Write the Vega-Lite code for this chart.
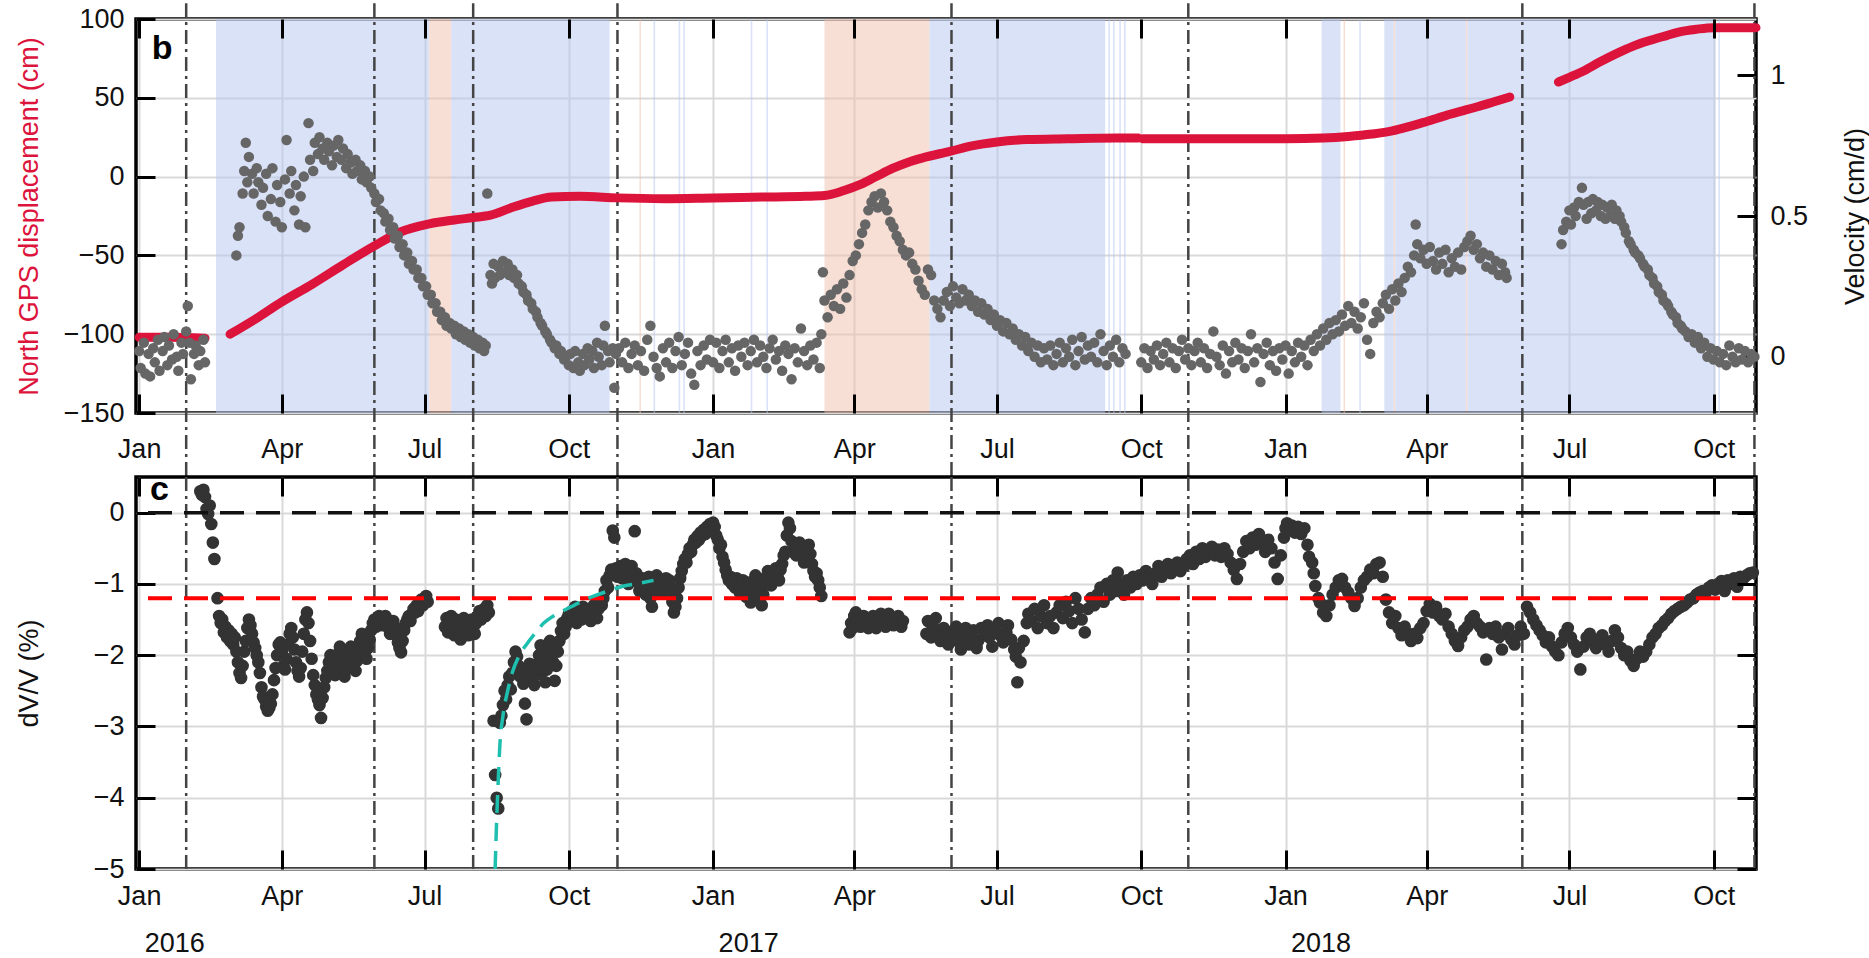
{
"$schema":"https://vega.github.io/schema/vega-lite/v6.json",
"padding":{"left":13,"top":0,"right":1,"bottom":2},
"bounds":"flush",
"spacing":64,
"config":{
 "font":"Liberation Sans",
 "view":{"stroke":"#000","strokeWidth":3.5},
 "axis":{"labelFont":"Liberation Sans","titleFont":"Liberation Sans","labelFontSize":27,"titleFontSize":27,"titleFontWeight":"normal","labelColor":"#111","titleColor":"#111","tickColor":"#000","tickWidth":3,"tickSize":-19,"domain":false,"gridColor":"#d9d9d9","gridWidth":2,"labelFlush":false,"labelOverlap":false,"labelBound":false}
},
"datasets":{
"bands":[
{"s":"2016-02-19","e":"2016-07-04","k":"blue"},
{"s":"2016-07-04","e":"2016-07-18","k":"salmon"},
{"s":"2016-07-18","e":"2016-10-27","k":"blue"},
{"s":"2016-11-15","e":"2016-11-16","k":"salmon"},
{"s":"2016-11-24","e":"2016-11-25","k":"blue"},
{"s":"2016-12-10","e":"2016-12-11","k":"blue"},
{"s":"2016-12-13","e":"2016-12-14","k":"blue"},
{"s":"2017-01-25","e":"2017-01-26","k":"blue"},
{"s":"2017-02-04","e":"2017-02-05","k":"blue"},
{"s":"2017-03-13","e":"2017-05-19","k":"salmon"},
{"s":"2017-05-19","e":"2017-09-08","k":"blue"},
{"s":"2017-09-10","e":"2017-09-11","k":"blue"},
{"s":"2017-09-13","e":"2017-09-14","k":"blue"},
{"s":"2017-09-17","e":"2017-09-18","k":"blue"},
{"s":"2017-09-20","e":"2017-09-21","k":"blue"},
{"s":"2018-01-24","e":"2018-02-05","k":"blue"},
{"s":"2018-02-07","e":"2018-02-08","k":"salmon"},
{"s":"2018-02-17","e":"2018-02-18","k":"blue"},
{"s":"2018-03-05","e":"2018-03-11","k":"blue"},
{"s":"2018-03-11","e":"2018-03-12","k":"salmon"},
{"s":"2018-03-12","e":"2018-04-26","k":"blue"},
{"s":"2018-04-26","e":"2018-04-27","k":"salmon"},
{"s":"2018-04-27","e":"2018-10-02","k":"blue"},
{"s":"2018-10-04","e":"2018-10-05","k":"blue"}
],
"events":[{"d":"2016-01-31"},{"d":"2016-05-30"},{"d":"2016-08-01"},{"d":"2016-11-01"},{"d":"2017-06-02"},{"d":"2017-10-31"},{"d":"2018-06-01"},{"d":"2018-10-27"}],
"disp":[
{"d":"2016-01-01","cm":-102,"seg":1},{"d":"2016-01-20","cm":-102,"seg":1},{"d":"2016-02-12","cm":-102.5,"seg":1},
{"d":"2016-02-28","cm":-100,"seg":2},{"d":"2016-03-15","cm":-90.5,"seg":2},{"d":"2016-04-01","cm":-79.5,"seg":2},{"d":"2016-04-20","cm":-68.5,"seg":2},{"d":"2016-05-10","cm":-56,"seg":2},{"d":"2016-05-30","cm":-44,"seg":2},{"d":"2016-06-16","cm":-35,"seg":2},{"d":"2016-07-04","cm":-30,"seg":2},{"d":"2016-07-20","cm":-27.5,"seg":2},{"d":"2016-08-01","cm":-26,"seg":2},{"d":"2016-08-12","cm":-24.5,"seg":2},{"d":"2016-08-26","cm":-19.5,"seg":2},{"d":"2016-09-08","cm":-15.5,"seg":2},{"d":"2016-09-20","cm":-13,"seg":2},{"d":"2016-10-08","cm":-12.5,"seg":2},{"d":"2016-11-01","cm":-13.5,"seg":2},{"d":"2016-12-01","cm":-14,"seg":2},{"d":"2017-01-01","cm":-13.5,"seg":2},{"d":"2017-02-01","cm":-13,"seg":2},{"d":"2017-03-01","cm":-12.5,"seg":2},{"d":"2017-03-13","cm":-12,"seg":2},{"d":"2017-03-25","cm":-9,"seg":2},{"d":"2017-04-05","cm":-5,"seg":2},{"d":"2017-04-15","cm":0,"seg":2},{"d":"2017-04-25","cm":5,"seg":2},{"d":"2017-05-05","cm":9,"seg":2},{"d":"2017-05-15","cm":12,"seg":2},{"d":"2017-06-01","cm":16,"seg":2},{"d":"2017-06-15","cm":19.5,"seg":2},{"d":"2017-07-01","cm":22,"seg":2},{"d":"2017-07-20","cm":23.5,"seg":2},{"d":"2017-08-15","cm":24,"seg":2},{"d":"2017-09-15","cm":24.5,"seg":2},{"d":"2017-09-29","cm":24.5,"seg":2},
{"d":"2017-10-02","cm":24,"seg":3},{"d":"2017-11-01","cm":24,"seg":3},{"d":"2017-12-01","cm":24,"seg":3},{"d":"2018-01-01","cm":24,"seg":3},{"d":"2018-01-25","cm":24.5,"seg":3},{"d":"2018-02-10","cm":25.5,"seg":3},{"d":"2018-02-25","cm":27,"seg":3},{"d":"2018-03-10","cm":29,"seg":3},{"d":"2018-03-20","cm":31.5,"seg":3},{"d":"2018-04-01","cm":35,"seg":3},{"d":"2018-04-14","cm":39,"seg":3},{"d":"2018-04-25","cm":42,"seg":3},{"d":"2018-05-04","cm":44.5,"seg":3},{"d":"2018-05-14","cm":47.5,"seg":3},{"d":"2018-05-24","cm":50.5,"seg":3},
{"d":"2018-06-24","cm":60,"seg":4},{"d":"2018-07-01","cm":63,"seg":4},{"d":"2018-07-10","cm":67,"seg":4},{"d":"2018-07-20","cm":72.5,"seg":4},{"d":"2018-08-01","cm":78.5,"seg":4},{"d":"2018-08-10","cm":82.5,"seg":4},{"d":"2018-08-20","cm":86,"seg":4},{"d":"2018-09-01","cm":89.5,"seg":4},{"d":"2018-09-10","cm":92,"seg":4},{"d":"2018-09-20","cm":93.5,"seg":4},{"d":"2018-10-01","cm":94.5,"seg":4},{"d":"2018-10-28","cm":94.5,"seg":4}
],
"vel":[
{"d":"2016-01-01","v":0.02},{"d":"2016-01-02","v":-0.04},{"d":"2016-01-04","v":0.05},{"d":"2016-01-05","v":-0.06},{"d":"2016-01-07","v":0.01},{"d":"2016-01-08","v":-0.07},{"d":"2016-01-10","v":0.03},{"d":"2016-01-11","v":-0.02},{"d":"2016-01-13","v":0.06},{"d":"2016-01-14","v":-0.05},{"d":"2016-01-16","v":0.02},{"d":"2016-01-17","v":0.07},{"d":"2016-01-19","v":-0.03},{"d":"2016-01-20","v":0.04},{"d":"2016-01-22","v":-0.01},{"d":"2016-01-23","v":0.08},{"d":"2016-01-25","v":0.0},{"d":"2016-01-26","v":-0.05},{"d":"2016-01-28","v":0.05},{"d":"2016-01-29","v":0.01},{"d":"2016-01-31","v":0.09},{"d":"2016-02-01","v":0.18},{"d":"2016-02-02","v":0.05},{"d":"2016-02-03","v":-0.08},{"d":"2016-02-05","v":0.01},{"d":"2016-02-06","v":0.04},{"d":"2016-02-08","v":-0.03},{"d":"2016-02-09","v":0.02},{"d":"2016-02-11","v":0.06},{"d":"2016-02-12","v":-0.02},
{"d":"2016-03-03","v":0.36},{"d":"2016-03-04","v":0.43},{"d":"2016-03-05","v":0.46},{"d":"2016-03-07","v":0.58},{"d":"2016-03-08","v":0.66},{"d":"2016-03-09","v":0.76},{"d":"2016-03-10","v":0.62},{"d":"2016-03-11","v":0.71},{"d":"2016-03-13","v":0.65},{"d":"2016-03-14","v":0.58},{"d":"2016-03-16","v":0.67},{"d":"2016-03-17","v":0.62},{"d":"2016-03-19","v":0.54},{"d":"2016-03-20","v":0.6},{"d":"2016-03-22","v":0.65},{"d":"2016-03-23","v":0.5},{"d":"2016-03-25","v":0.56},{"d":"2016-03-26","v":0.67},{"d":"2016-03-28","v":0.48},{"d":"2016-03-29","v":0.61},{"d":"2016-03-31","v":0.55},{"d":"2016-04-01","v":0.46},{"d":"2016-04-03","v":0.63},{"d":"2016-04-04","v":0.77},{"d":"2016-04-06","v":0.58},{"d":"2016-04-07","v":0.66},{"d":"2016-04-09","v":0.52},{"d":"2016-04-10","v":0.61},{"d":"2016-04-12","v":0.47},{"d":"2016-04-13","v":0.57},{"d":"2016-04-15","v":0.64},{"d":"2016-04-16","v":0.46},{"d":"2016-04-18","v":0.83},{"d":"2016-04-19","v":0.7},{"d":"2016-04-21","v":0.66},{"d":"2016-04-22","v":0.76},{"d":"2016-04-24","v":0.72},{"d":"2016-04-25","v":0.78},{"d":"2016-04-27","v":0.74},{"d":"2016-04-28","v":0.7},{"d":"2016-04-30","v":0.76},{"d":"2016-05-01","v":0.73},{"d":"2016-05-03","v":0.68},{"d":"2016-05-04","v":0.75},{"d":"2016-05-06","v":0.71},{"d":"2016-05-07","v":0.77},{"d":"2016-05-09","v":0.7},{"d":"2016-05-10","v":0.74},{"d":"2016-05-12","v":0.67},{"d":"2016-05-13","v":0.72},{"d":"2016-05-15","v":0.69},{"d":"2016-05-16","v":0.65},{"d":"2016-05-18","v":0.7},{"d":"2016-05-19","v":0.66},{"d":"2016-05-21","v":0.68},{"d":"2016-05-22","v":0.63},{"d":"2016-05-24","v":0.66},{"d":"2016-05-25","v":0.62},{"d":"2016-05-27","v":0.64},{"d":"2016-05-28","v":0.6},{"d":"2016-05-30","v":0.58},{"d":"2016-05-31","v":0.55},{"d":"2016-06-02","v":0.56},{"d":"2016-06-03","v":0.52},{"d":"2016-06-05","v":0.51},{"d":"2016-06-06","v":0.48},{"d":"2016-06-08","v":0.49},{"d":"2016-06-09","v":0.45},{"d":"2016-06-11","v":0.46},{"d":"2016-06-12","v":0.42},{"d":"2016-06-14","v":0.43},{"d":"2016-06-15","v":0.39},{"d":"2016-06-17","v":0.4},{"d":"2016-06-18","v":0.36},{"d":"2016-06-20","v":0.37},{"d":"2016-06-21","v":0.33},{"d":"2016-06-23","v":0.34},{"d":"2016-06-24","v":0.31},{"d":"2016-06-26","v":0.31},{"d":"2016-06-27","v":0.28},{"d":"2016-06-29","v":0.28},{"d":"2016-06-30","v":0.25},{"d":"2016-07-02","v":0.25},{"d":"2016-07-03","v":0.22},{"d":"2016-07-05","v":0.22},{"d":"2016-07-06","v":0.19},{"d":"2016-07-08","v":0.19},{"d":"2016-07-09","v":0.16},{"d":"2016-07-11","v":0.16},{"d":"2016-07-12","v":0.13},{"d":"2016-07-14","v":0.14},{"d":"2016-07-15","v":0.11},{"d":"2016-07-17","v":0.12},{"d":"2016-07-18","v":0.1},{"d":"2016-07-20","v":0.11},{"d":"2016-07-21","v":0.08},{"d":"2016-07-23","v":0.1},{"d":"2016-07-24","v":0.07},{"d":"2016-07-26","v":0.09},{"d":"2016-07-27","v":0.06},{"d":"2016-07-29","v":0.08},{"d":"2016-07-30","v":0.05},{"d":"2016-08-01","v":0.07},{"d":"2016-08-02","v":0.04},{"d":"2016-08-04","v":0.06},{"d":"2016-08-05","v":0.03},{"d":"2016-08-07","v":0.05},{"d":"2016-08-08","v":0.02},{"d":"2016-08-09","v":0.04},{"d":"2016-08-10","v":0.58},{"d":"2016-08-12","v":0.29},{"d":"2016-08-13","v":0.26},{"d":"2016-08-14","v":0.33},{"d":"2016-08-15","v":0.28},{"d":"2016-08-17","v":0.32},{"d":"2016-08-18","v":0.29},{"d":"2016-08-20","v":0.34},{"d":"2016-08-21","v":0.3},{"d":"2016-08-23","v":0.33},{"d":"2016-08-24","v":0.29},{"d":"2016-08-26","v":0.31},{"d":"2016-08-27","v":0.28},{"d":"2016-08-29","v":0.29},{"d":"2016-08-30","v":0.26},{"d":"2016-09-01","v":0.25},{"d":"2016-09-02","v":0.23},{"d":"2016-09-04","v":0.22},{"d":"2016-09-05","v":0.2},{"d":"2016-09-07","v":0.19},{"d":"2016-09-08","v":0.17},{"d":"2016-09-10","v":0.16},{"d":"2016-09-11","v":0.14},{"d":"2016-09-13","v":0.12},{"d":"2016-09-14","v":0.11},{"d":"2016-09-16","v":0.09},{"d":"2016-09-17","v":0.08},{"d":"2016-09-19","v":0.06},{"d":"2016-09-20","v":0.05},{"d":"2016-09-22","v":0.03},{"d":"2016-09-23","v":0.04},{"d":"2016-09-25","v":0.01},{"d":"2016-09-26","v":0.02},{"d":"2016-09-28","v":-0.01},{"d":"2016-09-29","v":0.0},{"d":"2016-10-01","v":-0.03},{"d":"2016-10-02","v":0.01},{"d":"2016-10-04","v":-0.04},{"d":"2016-10-05","v":0.02},{"d":"2016-10-07","v":-0.02},{"d":"2016-10-08","v":-0.05},{"d":"2016-10-10","v":0.01},{"d":"2016-10-11","v":-0.03},{"d":"2016-10-13","v":0.03},{"d":"2016-10-14","v":-0.01},{"d":"2016-10-16","v":0.02},{"d":"2016-10-17","v":-0.04},{"d":"2016-10-19","v":0.05},{"d":"2016-10-20","v":0.0},{"d":"2016-10-22","v":-0.03},{"d":"2016-10-23","v":0.04},{"d":"2016-10-24","v":0.11},{"d":"2016-10-26","v":0.02},{"d":"2016-10-27","v":-0.02},{"d":"2016-10-29","v":0.03},{"d":"2016-10-30","v":-0.11},{"d":"2016-10-31","v":0.01},
{"d":"2016-11-02","v":0.03},{"d":"2016-11-04","v":-0.02},{"d":"2016-11-06","v":0.05},{"d":"2016-11-08","v":-0.04},{"d":"2016-11-10","v":0.01},{"d":"2016-11-12","v":0.04},{"d":"2016-11-14","v":-0.03},{"d":"2016-11-16","v":0.02},{"d":"2016-11-18","v":-0.05},{"d":"2016-11-20","v":0.06},{"d":"2016-11-22","v":0.11},{"d":"2016-11-24","v":0.0},{"d":"2016-11-26","v":-0.04},{"d":"2016-11-28","v":-0.07},{"d":"2016-11-30","v":0.03},{"d":"2016-12-02","v":-0.02},{"d":"2016-12-04","v":0.05},{"d":"2016-12-06","v":-0.04},{"d":"2016-12-08","v":0.02},{"d":"2016-12-10","v":0.07},{"d":"2016-12-12","v":-0.03},{"d":"2016-12-14","v":0.01},{"d":"2016-12-16","v":0.05},{"d":"2016-12-18","v":-0.06},{"d":"2016-12-20","v":-0.1},{"d":"2016-12-22","v":0.02},{"d":"2016-12-24","v":-0.03},{"d":"2016-12-26","v":0.04},{"d":"2016-12-28","v":-0.01},{"d":"2016-12-30","v":0.06},{"d":"2017-01-01","v":-0.02},{"d":"2017-01-03","v":0.05},{"d":"2017-01-05","v":-0.04},{"d":"2017-01-07","v":0.02},{"d":"2017-01-09","v":0.06},{"d":"2017-01-11","v":-0.02},{"d":"2017-01-13","v":0.03},{"d":"2017-01-15","v":-0.05},{"d":"2017-01-17","v":0.04},{"d":"2017-01-19","v":0.0},{"d":"2017-01-21","v":0.05},{"d":"2017-01-23","v":-0.03},{"d":"2017-01-25","v":0.02},{"d":"2017-01-27","v":0.06},{"d":"2017-01-29","v":-0.02},{"d":"2017-01-31","v":0.04},{"d":"2017-02-02","v":0.0},{"d":"2017-02-04","v":-0.04},{"d":"2017-02-06","v":0.03},{"d":"2017-02-08","v":0.06},{"d":"2017-02-10","v":-0.01},{"d":"2017-02-12","v":0.02},{"d":"2017-02-14","v":-0.05},{"d":"2017-02-16","v":0.04},{"d":"2017-02-18","v":0.01},{"d":"2017-02-20","v":-0.08},{"d":"2017-02-22","v":0.03},{"d":"2017-02-24","v":-0.02},{"d":"2017-02-26","v":0.1},{"d":"2017-02-28","v":0.02},{"d":"2017-03-02","v":-0.03},{"d":"2017-03-04","v":0.04},{"d":"2017-03-06","v":-0.01},{"d":"2017-03-08","v":0.05},{"d":"2017-03-10","v":-0.04},
{"d":"2017-03-11","v":0.08},{"d":"2017-03-12","v":0.3},{"d":"2017-03-13","v":0.2},{"d":"2017-03-15","v":0.14},{"d":"2017-03-17","v":0.22},{"d":"2017-03-19","v":0.18},{"d":"2017-03-21","v":0.24},{"d":"2017-03-23","v":0.17},{"d":"2017-03-25","v":0.26},{"d":"2017-03-27","v":0.21},{"d":"2017-03-29","v":0.29},{"d":"2017-03-31","v":0.34},{"d":"2017-04-02","v":0.36},{"d":"2017-04-04","v":0.4},{"d":"2017-04-06","v":0.44},{"d":"2017-04-08","v":0.47},{"d":"2017-04-10","v":0.52},{"d":"2017-04-12","v":0.55},{"d":"2017-04-14","v":0.57},{"d":"2017-04-16","v":0.53},{"d":"2017-04-18","v":0.58},{"d":"2017-04-20","v":0.55},{"d":"2017-04-22","v":0.52},{"d":"2017-04-24","v":0.48},{"d":"2017-04-26","v":0.46},{"d":"2017-04-28","v":0.43},{"d":"2017-04-30","v":0.41},{"d":"2017-05-02","v":0.38},{"d":"2017-05-04","v":0.36},{"d":"2017-05-06","v":0.37},{"d":"2017-05-08","v":0.33},{"d":"2017-05-10","v":0.31},{"d":"2017-05-12","v":0.27},{"d":"2017-05-14","v":0.24},{"d":"2017-05-16","v":0.22},{"d":"2017-05-18","v":0.31},{"d":"2017-05-20","v":0.29},{"d":"2017-05-22","v":0.2},{"d":"2017-05-24","v":0.17},{"d":"2017-05-26","v":0.14},{"d":"2017-05-28","v":0.2},{"d":"2017-05-30","v":0.23},{"d":"2017-06-01","v":0.18},{"d":"2017-06-03","v":0.25},{"d":"2017-06-05","v":0.21},{"d":"2017-06-07","v":0.19},{"d":"2017-06-09","v":0.24},{"d":"2017-06-11","v":0.2},{"d":"2017-06-13","v":0.22},{"d":"2017-06-15","v":0.18},{"d":"2017-06-17","v":0.2},{"d":"2017-06-19","v":0.16},{"d":"2017-06-21","v":0.19},{"d":"2017-06-23","v":0.15},{"d":"2017-06-25","v":0.17},{"d":"2017-06-27","v":0.13},{"d":"2017-06-29","v":0.15},{"d":"2017-07-01","v":0.11},{"d":"2017-07-03","v":0.13},{"d":"2017-07-05","v":0.09},{"d":"2017-07-07","v":0.12},{"d":"2017-07-09","v":0.08},{"d":"2017-07-11","v":0.1},{"d":"2017-07-13","v":0.06},{"d":"2017-07-15","v":0.08},{"d":"2017-07-17","v":0.04},{"d":"2017-07-19","v":0.07},{"d":"2017-07-21","v":0.02},{"d":"2017-07-23","v":0.05},{"d":"2017-07-25","v":0.0},{"d":"2017-07-27","v":0.04},{"d":"2017-07-29","v":-0.02},{"d":"2017-07-31","v":0.03},{"d":"2017-08-02","v":-0.01},{"d":"2017-08-04","v":0.04},{"d":"2017-08-06","v":-0.03},{"d":"2017-08-08","v":0.01},{"d":"2017-08-10","v":0.05},{"d":"2017-08-12","v":-0.02},{"d":"2017-08-14","v":0.03},{"d":"2017-08-16","v":0.0},{"d":"2017-08-18","v":0.06},{"d":"2017-08-20","v":-0.03},{"d":"2017-08-22","v":0.02},{"d":"2017-08-24","v":0.07},{"d":"2017-08-26","v":-0.01},{"d":"2017-08-28","v":0.04},{"d":"2017-08-30","v":0.0},{"d":"2017-09-01","v":0.05},{"d":"2017-09-03","v":-0.02},{"d":"2017-09-05","v":0.08},{"d":"2017-09-07","v":0.02},{"d":"2017-09-09","v":-0.03},{"d":"2017-09-11","v":0.04},{"d":"2017-09-13","v":0.0},{"d":"2017-09-15","v":0.06},{"d":"2017-09-17","v":-0.02},{"d":"2017-09-19","v":0.03},{"d":"2017-09-21","v":0.01},
{"d":"2017-10-01","v":-0.02},{"d":"2017-10-03","v":0.03},{"d":"2017-10-05","v":-0.04},{"d":"2017-10-07","v":0.02},{"d":"2017-10-09","v":-0.01},{"d":"2017-10-11","v":0.04},{"d":"2017-10-13","v":-0.03},{"d":"2017-10-15","v":0.01},{"d":"2017-10-17","v":0.05},{"d":"2017-10-19","v":-0.02},{"d":"2017-10-21","v":0.03},{"d":"2017-10-23","v":-0.04},{"d":"2017-10-25","v":0.02},{"d":"2017-10-27","v":0.06},{"d":"2017-10-29","v":-0.01},{"d":"2017-10-31","v":0.03},{"d":"2017-11-02","v":-0.03},{"d":"2017-11-04","v":0.02},{"d":"2017-11-06","v":0.05},{"d":"2017-11-08","v":-0.02},{"d":"2017-11-10","v":0.03},{"d":"2017-11-12","v":-0.04},{"d":"2017-11-14","v":0.01},{"d":"2017-11-16","v":0.09},{"d":"2017-11-18","v":0.0},{"d":"2017-11-20","v":-0.03},{"d":"2017-11-22","v":0.04},{"d":"2017-11-24","v":-0.06},{"d":"2017-11-26","v":0.02},{"d":"2017-11-28","v":-0.02},{"d":"2017-11-30","v":0.05},{"d":"2017-12-02","v":-0.01},{"d":"2017-12-04","v":0.03},{"d":"2017-12-06","v":-0.04},{"d":"2017-12-08","v":0.02},{"d":"2017-12-10","v":0.08},{"d":"2017-12-12","v":-0.02},{"d":"2017-12-14","v":0.03},{"d":"2017-12-16","v":-0.09},{"d":"2017-12-18","v":0.01},{"d":"2017-12-20","v":0.05},{"d":"2017-12-22","v":-0.03},{"d":"2017-12-24","v":0.02},{"d":"2017-12-26","v":-0.05},{"d":"2017-12-28","v":0.03},{"d":"2017-12-30","v":-0.01},{"d":"2018-01-01","v":0.04},{"d":"2018-01-03","v":-0.06},{"d":"2018-01-05","v":0.02},{"d":"2018-01-07","v":-0.02},{"d":"2018-01-09","v":0.05},{"d":"2018-01-11","v":0.0},{"d":"2018-01-13","v":0.04},{"d":"2018-01-15","v":-0.03},{"d":"2018-01-17","v":0.06},{"d":"2018-01-19","v":0.02},{"d":"2018-01-21","v":0.08},{"d":"2018-01-23","v":0.04},{"d":"2018-01-25","v":0.1},{"d":"2018-01-27","v":0.06},{"d":"2018-01-29","v":0.12},{"d":"2018-01-31","v":0.08},{"d":"2018-02-02","v":0.13},{"d":"2018-02-04","v":0.09},{"d":"2018-02-06","v":0.15},{"d":"2018-02-08","v":0.11},{"d":"2018-02-10","v":0.18},{"d":"2018-02-12","v":0.12},{"d":"2018-02-14","v":0.16},{"d":"2018-02-16","v":0.1},{"d":"2018-02-18","v":0.14},{"d":"2018-02-20","v":0.19},{"d":"2018-02-22","v":0.06},{"d":"2018-02-24","v":0.01},{"d":"2018-02-26","v":0.12},{"d":"2018-02-28","v":0.16},{"d":"2018-03-02","v":0.14},{"d":"2018-03-04","v":0.19},{"d":"2018-03-06","v":0.22},{"d":"2018-03-08","v":0.17},{"d":"2018-03-10","v":0.24},{"d":"2018-03-12","v":0.2},{"d":"2018-03-14","v":0.26},{"d":"2018-03-16","v":0.23},{"d":"2018-03-18","v":0.28},{"d":"2018-03-20","v":0.32},{"d":"2018-03-22","v":0.3},{"d":"2018-03-24","v":0.36},{"d":"2018-03-25","v":0.47},{"d":"2018-03-26","v":0.4},{"d":"2018-03-28","v":0.35},{"d":"2018-03-30","v":0.38},{"d":"2018-04-01","v":0.33},{"d":"2018-04-03","v":0.39},{"d":"2018-04-05","v":0.34},{"d":"2018-04-07","v":0.31},{"d":"2018-04-09","v":0.37},{"d":"2018-04-11","v":0.33},{"d":"2018-04-13","v":0.38},{"d":"2018-04-15","v":0.3},{"d":"2018-04-17","v":0.35},{"d":"2018-04-19","v":0.32},{"d":"2018-04-21","v":0.37},{"d":"2018-04-23","v":0.31},{"d":"2018-04-25","v":0.39},{"d":"2018-04-27","v":0.41},{"d":"2018-04-29","v":0.43},{"d":"2018-05-01","v":0.38},{"d":"2018-05-03","v":0.4},{"d":"2018-05-05","v":0.35},{"d":"2018-05-07","v":0.37},{"d":"2018-05-09","v":0.32},{"d":"2018-05-11","v":0.36},{"d":"2018-05-13","v":0.31},{"d":"2018-05-15","v":0.34},{"d":"2018-05-17","v":0.29},{"d":"2018-05-19","v":0.33},{"d":"2018-05-21","v":0.3},{"d":"2018-05-22","v":0.28},
{"d":"2018-06-26","v":0.4},{"d":"2018-06-27","v":0.45},{"d":"2018-06-29","v":0.48},{"d":"2018-07-01","v":0.52},{"d":"2018-07-02","v":0.47},{"d":"2018-07-04","v":0.53},{"d":"2018-07-05","v":0.5},{"d":"2018-07-07","v":0.55},{"d":"2018-07-09","v":0.6},{"d":"2018-07-10","v":0.54},{"d":"2018-07-12","v":0.49},{"d":"2018-07-13","v":0.55},{"d":"2018-07-15","v":0.51},{"d":"2018-07-16","v":0.56},{"d":"2018-07-18","v":0.52},{"d":"2018-07-19","v":0.55},{"d":"2018-07-21","v":0.5},{"d":"2018-07-22","v":0.54},{"d":"2018-07-24","v":0.49},{"d":"2018-07-25","v":0.53},{"d":"2018-07-27","v":0.5},{"d":"2018-07-28","v":0.54},{"d":"2018-07-30","v":0.49},{"d":"2018-07-31","v":0.52},{"d":"2018-08-02","v":0.5},{"d":"2018-08-03","v":0.48},{"d":"2018-08-05","v":0.46},{"d":"2018-08-06","v":0.44},{"d":"2018-08-08","v":0.41},{"d":"2018-08-09","v":0.4},{"d":"2018-08-11","v":0.38},{"d":"2018-08-12","v":0.37},{"d":"2018-08-14","v":0.36},{"d":"2018-08-15","v":0.35},{"d":"2018-08-17","v":0.33},{"d":"2018-08-18","v":0.32},{"d":"2018-08-20","v":0.31},{"d":"2018-08-21","v":0.29},{"d":"2018-08-23","v":0.28},{"d":"2018-08-24","v":0.26},{"d":"2018-08-26","v":0.25},{"d":"2018-08-27","v":0.23},{"d":"2018-08-29","v":0.22},{"d":"2018-08-30","v":0.2},{"d":"2018-09-01","v":0.19},{"d":"2018-09-02","v":0.18},{"d":"2018-09-04","v":0.16},{"d":"2018-09-05","v":0.15},{"d":"2018-09-07","v":0.14},{"d":"2018-09-08","v":0.12},{"d":"2018-09-10","v":0.11},{"d":"2018-09-11","v":0.1},{"d":"2018-09-13","v":0.09},{"d":"2018-09-15","v":0.07},{"d":"2018-09-17","v":0.08},{"d":"2018-09-19","v":0.05},{"d":"2018-09-21","v":0.07},{"d":"2018-09-23","v":0.03},{"d":"2018-09-25","v":0.05},{"d":"2018-09-27","v":0.0},{"d":"2018-09-29","v":0.03},{"d":"2018-10-01","v":-0.01},{"d":"2018-10-03","v":0.02},{"d":"2018-10-05","v":-0.02},{"d":"2018-10-07","v":0.01},{"d":"2018-10-09","v":-0.03},{"d":"2018-10-11","v":0.04},{"d":"2018-10-13","v":0.0},{"d":"2018-10-15","v":-0.02},{"d":"2018-10-17","v":0.03},{"d":"2018-10-19","v":-0.01},{"d":"2018-10-21","v":0.02},{"d":"2018-10-23","v":-0.02},{"d":"2018-10-25","v":0.01},{"d":"2018-10-27","v":0.0}
],
"dvv":[
{"d":"2016-02-09","p":0.3},{"d":"2016-02-10","p":0.25},{"d":"2016-02-11","p":0.32},{"d":"2016-02-12","p":0.22},{"d":"2016-02-13","p":0.05},{"d":"2016-02-14","p":-0.02},{"d":"2016-02-15","p":0.1},{"d":"2016-02-16","p":-0.16},{"d":"2016-02-17","p":-0.42},{"d":"2016-02-18","p":-0.65},{"d":"2016-02-20","p":-1.2},{"d":"2016-02-21","p":-1.45},{"d":"2016-02-22","p":-1.55},{"d":"2016-02-23","p":-1.5},{"d":"2016-02-24","p":-1.68},{"d":"2016-02-25","p":-1.6},{"d":"2016-02-26","p":-1.75},{"d":"2016-02-27","p":-1.65},{"d":"2016-02-28","p":-1.8},{"d":"2016-02-29","p":-1.7},{"d":"2016-03-01","p":-1.85},{"d":"2016-03-02","p":-1.75},{"d":"2016-03-03","p":-1.95},{"d":"2016-03-04","p":-2.1},{"d":"2016-03-05","p":-2.25},{"d":"2016-03-06","p":-2.32},{"d":"2016-03-07","p":-2.15},{"d":"2016-03-08","p":-1.95},{"d":"2016-03-09","p":-1.8},{"d":"2016-03-10","p":-1.62},{"d":"2016-03-11","p":-1.5},{"d":"2016-03-12","p":-1.58},{"d":"2016-03-13","p":-1.7},{"d":"2016-03-14","p":-1.82},{"d":"2016-03-15","p":-1.9},{"d":"2016-03-16","p":-2.0},{"d":"2016-03-17","p":-2.1},{"d":"2016-03-18","p":-2.25},{"d":"2016-03-19","p":-2.45},{"d":"2016-03-20","p":-2.58},{"d":"2016-03-21","p":-2.62},{"d":"2016-03-22","p":-2.72},{"d":"2016-03-23","p":-2.78},{"d":"2016-03-24","p":-2.74},{"d":"2016-03-25","p":-2.68},{"d":"2016-03-26","p":-2.55},{"d":"2016-03-27","p":-2.35},{"d":"2016-03-28","p":-2.18},{"d":"2016-03-29","p":-2.0},{"d":"2016-03-30","p":-1.85},{"d":"2016-03-31","p":-1.82},{"d":"2016-04-01","p":-1.95},{"d":"2016-04-02","p":-2.15},{"d":"2016-04-03","p":-2.2},{"d":"2016-04-04","p":-2.05},{"d":"2016-04-05","p":-1.85},{"d":"2016-04-06","p":-1.7},{"d":"2016-04-07","p":-1.62},{"d":"2016-04-08","p":-1.75},{"d":"2016-04-09","p":-1.92},{"d":"2016-04-10","p":-2.1},{"d":"2016-04-11","p":-2.22},{"d":"2016-04-12","p":-2.3},{"d":"2016-04-13","p":-2.18},{"d":"2016-04-14","p":-1.95},{"d":"2016-04-15","p":-1.7},{"d":"2016-04-16","p":-1.5},{"d":"2016-04-17","p":-1.4},{"d":"2016-04-18","p":-1.55},{"d":"2016-04-19","p":-1.8},{"d":"2016-04-20","p":-2.05},{"d":"2016-04-21","p":-2.28},{"d":"2016-04-22","p":-2.42},{"d":"2016-04-23","p":-2.55},{"d":"2016-04-24","p":-2.62},{"d":"2016-04-25","p":-2.7},{"d":"2016-04-26","p":-2.88},{"d":"2016-04-27","p":-2.6},{"d":"2016-04-28","p":-2.45},{"d":"2016-04-29","p":-2.32},{"d":"2016-04-30","p":-2.22},{"d":"2016-05-01","p":-2.1},{"d":"2016-05-02","p":-2.0},{"d":"2016-05-03","p":-2.1},{"d":"2016-05-04","p":-2.22},{"d":"2016-05-05","p":-2.28},{"d":"2016-05-06","p":-2.12},{"d":"2016-05-07","p":-1.98},{"d":"2016-05-08","p":-1.88},{"d":"2016-05-09","p":-2.02},{"d":"2016-05-10","p":-2.18},{"d":"2016-05-11","p":-2.3},{"d":"2016-05-12","p":-2.2},{"d":"2016-05-13","p":-2.08},{"d":"2016-05-14","p":-1.95},{"d":"2016-05-15","p":-1.88},{"d":"2016-05-16","p":-2.0},{"d":"2016-05-17","p":-2.12},{"d":"2016-05-18","p":-2.22},{"d":"2016-05-19","p":-2.08},{"d":"2016-05-20","p":-1.92},{"d":"2016-05-21","p":-1.8},{"d":"2016-05-22","p":-1.7},{"d":"2016-05-23","p":-1.8},{"d":"2016-05-24","p":-1.95},{"d":"2016-05-25","p":-2.05},{"d":"2016-05-26","p":-1.9},{"d":"2016-05-27","p":-1.78},{"d":"2016-05-28","p":-1.65},{"d":"2016-05-29","p":-1.55},{"d":"2016-05-30","p":-1.5},{"d":"2016-05-31","p":-1.6},{"d":"2016-06-01","p":-1.5},{"d":"2016-06-02","p":-1.45},{"d":"2016-06-03","p":-1.52},{"d":"2016-06-04","p":-1.58},{"d":"2016-06-05","p":-1.5},{"d":"2016-06-06","p":-1.45},{"d":"2016-06-07","p":-1.55},{"d":"2016-06-08","p":-1.62},{"d":"2016-06-09","p":-1.7},{"d":"2016-06-10","p":-1.6},{"d":"2016-06-11","p":-1.52},{"d":"2016-06-12","p":-1.6},{"d":"2016-06-13","p":-1.72},{"d":"2016-06-14","p":-1.82},{"d":"2016-06-15","p":-1.9},{"d":"2016-06-16","p":-1.96},{"d":"2016-06-17","p":-1.8},{"d":"2016-06-18","p":-1.65},{"d":"2016-06-19","p":-1.55},{"d":"2016-06-20","p":-1.5},{"d":"2016-06-21","p":-1.45},{"d":"2016-06-22","p":-1.52},{"d":"2016-06-23","p":-1.42},{"d":"2016-06-24","p":-1.35},{"d":"2016-06-25","p":-1.4},{"d":"2016-06-26","p":-1.3},{"d":"2016-06-27","p":-1.38},{"d":"2016-06-28","p":-1.28},{"d":"2016-06-29","p":-1.22},{"d":"2016-06-30","p":-1.3},{"d":"2016-07-01","p":-1.2},{"d":"2016-07-02","p":-1.17},{"d":"2016-07-03","p":-1.25},
{"d":"2016-07-14","p":-1.6},{"d":"2016-07-15","p":-1.48},{"d":"2016-07-16","p":-1.68},{"d":"2016-07-17","p":-1.55},{"d":"2016-07-18","p":-1.45},{"d":"2016-07-19","p":-1.62},{"d":"2016-07-20","p":-1.72},{"d":"2016-07-21","p":-1.5},{"d":"2016-07-22","p":-1.58},{"d":"2016-07-23","p":-1.68},{"d":"2016-07-24","p":-1.78},{"d":"2016-07-25","p":-1.6},{"d":"2016-07-26","p":-1.48},{"d":"2016-07-27","p":-1.55},{"d":"2016-07-28","p":-1.65},{"d":"2016-07-29","p":-1.72},{"d":"2016-07-30","p":-1.6},{"d":"2016-07-31","p":-1.5},{"d":"2016-08-01","p":-1.62},{"d":"2016-08-02","p":-1.7},{"d":"2016-08-03","p":-1.55},{"d":"2016-08-04","p":-1.45},{"d":"2016-08-05","p":-1.38},{"d":"2016-08-06","p":-1.5},{"d":"2016-08-07","p":-1.42},{"d":"2016-08-08","p":-1.35},{"d":"2016-08-09","p":-1.45},{"d":"2016-08-10","p":-1.3},{"d":"2016-08-11","p":-1.4},
{"d":"2016-08-14","p":-2.92},{"d":"2016-08-15","p":-3.68},{"d":"2016-08-16","p":-4.0},{"d":"2016-08-17","p":-4.15},{"d":"2016-08-18","p":-2.95},{"d":"2016-08-19","p":-2.85},{"d":"2016-08-20","p":-2.7},{"d":"2016-08-21","p":-2.5},{"d":"2016-08-22","p":-2.62},{"d":"2016-08-23","p":-2.42},{"d":"2016-08-24","p":-2.3},{"d":"2016-08-25","p":-2.48},{"d":"2016-08-26","p":-2.25},{"d":"2016-08-27","p":-2.1},{"d":"2016-08-28","p":-1.95},{"d":"2016-08-29","p":-2.02},{"d":"2016-08-30","p":-2.15},{"d":"2016-08-31","p":-2.3},{"d":"2016-09-01","p":-2.22},{"d":"2016-09-02","p":-2.4},{"d":"2016-09-03","p":-2.68},{"d":"2016-09-04","p":-2.9},{"d":"2016-09-05","p":-2.28},{"d":"2016-09-06","p":-2.12},{"d":"2016-09-07","p":-2.32},{"d":"2016-09-08","p":-2.18},{"d":"2016-09-09","p":-2.42},{"d":"2016-09-10","p":-2.28},{"d":"2016-09-11","p":-2.12},{"d":"2016-09-12","p":-2.0},{"d":"2016-09-13","p":-1.86},{"d":"2016-09-14","p":-2.08},{"d":"2016-09-15","p":-2.22},{"d":"2016-09-16","p":-2.38},{"d":"2016-09-17","p":-2.2},{"d":"2016-09-18","p":-1.98},{"d":"2016-09-19","p":-1.8},{"d":"2016-09-20","p":-1.9},{"d":"2016-09-21","p":-2.1},{"d":"2016-09-22","p":-2.36},{"d":"2016-09-23","p":-2.15},{"d":"2016-09-24","p":-1.95},{"d":"2016-09-25","p":-1.8},{"d":"2016-09-26","p":-1.66},{"d":"2016-09-27","p":-1.55},{"d":"2016-09-28","p":-1.7},{"d":"2016-09-29","p":-1.6},{"d":"2016-09-30","p":-1.48},{"d":"2016-10-01","p":-1.42},{"d":"2016-10-02","p":-1.52},{"d":"2016-10-03","p":-1.38},{"d":"2016-10-04","p":-1.46},{"d":"2016-10-05","p":-1.32},{"d":"2016-10-06","p":-1.55},{"d":"2016-10-07","p":-1.44},{"d":"2016-10-08","p":-1.38},{"d":"2016-10-09","p":-1.5},{"d":"2016-10-10","p":-1.32},{"d":"2016-10-11","p":-1.42},{"d":"2016-10-12","p":-1.48},{"d":"2016-10-13","p":-1.36},{"d":"2016-10-14","p":-1.45},{"d":"2016-10-15","p":-1.52},{"d":"2016-10-16","p":-1.4},{"d":"2016-10-17","p":-1.3},{"d":"2016-10-18","p":-1.42},{"d":"2016-10-19","p":-1.48},{"d":"2016-10-20","p":-1.35},{"d":"2016-10-21","p":-1.22},{"d":"2016-10-22","p":-1.3},{"d":"2016-10-23","p":-1.2},{"d":"2016-10-24","p":-1.1},{"d":"2016-10-25","p":-0.95},{"d":"2016-10-26","p":-1.05},{"d":"2016-10-27","p":-0.88},{"d":"2016-10-28","p":-0.8},{"d":"2016-10-29","p":-0.25},{"d":"2016-10-30","p":-0.35},{"d":"2016-10-31","p":-0.78},{"d":"2016-11-01","p":-0.9},{"d":"2016-11-02","p":-0.85},{"d":"2016-11-03","p":-0.75},{"d":"2016-11-04","p":-0.92},{"d":"2016-11-05","p":-0.8},{"d":"2016-11-06","p":-0.72},{"d":"2016-11-07","p":-0.88},{"d":"2016-11-08","p":-1.0},{"d":"2016-11-09","p":-0.85},{"d":"2016-11-10","p":-0.75},{"d":"2016-11-11","p":-0.92},{"d":"2016-11-12","p":-0.26},{"d":"2016-11-13","p":-0.85},{"d":"2016-11-14","p":-0.98},{"d":"2016-11-15","p":-1.1},{"d":"2016-11-16","p":-1.0},{"d":"2016-11-17","p":-0.92},{"d":"2016-11-18","p":-1.05},{"d":"2016-11-19","p":-1.15},{"d":"2016-11-20","p":-1.0},{"d":"2016-11-21","p":-0.9},{"d":"2016-11-22","p":-1.2},{"d":"2016-11-23","p":-1.32},{"d":"2016-11-24","p":-1.12},{"d":"2016-11-25","p":-0.98},{"d":"2016-11-26","p":-0.88},{"d":"2016-11-27","p":-1.0},{"d":"2016-11-28","p":-1.08},{"d":"2016-11-29","p":-0.95},{"d":"2016-11-30","p":-1.12},{"d":"2016-12-01","p":-1.02},{"d":"2016-12-02","p":-0.92},{"d":"2016-12-03","p":-1.05},{"d":"2016-12-04","p":-0.95},{"d":"2016-12-05","p":-1.1},{"d":"2016-12-06","p":-1.25},{"d":"2016-12-07","p":-1.4},{"d":"2016-12-08","p":-1.32},{"d":"2016-12-09","p":-1.2},{"d":"2016-12-10","p":-1.05},{"d":"2016-12-11","p":-0.92},{"d":"2016-12-12","p":-0.82},{"d":"2016-12-13","p":-0.72},{"d":"2016-12-14","p":-0.65},{"d":"2016-12-15","p":-0.7},{"d":"2016-12-16","p":-0.58},{"d":"2016-12-17","p":-0.5},{"d":"2016-12-18","p":-0.55},{"d":"2016-12-19","p":-0.45},{"d":"2016-12-20","p":-0.38},{"d":"2016-12-21","p":-0.42},{"d":"2016-12-22","p":-0.33},{"d":"2016-12-23","p":-0.38},{"d":"2016-12-24","p":-0.28},{"d":"2016-12-25","p":-0.32},{"d":"2016-12-26","p":-0.24},{"d":"2016-12-27","p":-0.3},{"d":"2016-12-28","p":-0.2},{"d":"2016-12-29","p":-0.25},{"d":"2016-12-30","p":-0.16},{"d":"2016-12-31","p":-0.2},{"d":"2017-01-01","p":-0.14},{"d":"2017-01-02","p":-0.2},{"d":"2017-01-03","p":-0.32},{"d":"2017-01-04","p":-0.38},{"d":"2017-01-05","p":-0.5},{"d":"2017-01-06","p":-0.45},{"d":"2017-01-07","p":-0.62},{"d":"2017-01-08","p":-0.7},{"d":"2017-01-09","p":-0.8},{"d":"2017-01-10","p":-0.88},{"d":"2017-01-11","p":-0.95},{"d":"2017-01-12","p":-0.9},{"d":"2017-01-13","p":-1.0},{"d":"2017-01-14","p":-0.95},{"d":"2017-01-15","p":-1.05},{"d":"2017-01-16","p":-0.92},{"d":"2017-01-17","p":-1.02},{"d":"2017-01-18","p":-1.12},{"d":"2017-01-19","p":-1.0},{"d":"2017-01-20","p":-0.95},{"d":"2017-01-21","p":-1.08},{"d":"2017-01-22","p":-1.18},{"d":"2017-01-23","p":-1.05},{"d":"2017-01-24","p":-0.98},{"d":"2017-01-25","p":-1.26},{"d":"2017-01-26","p":-1.1},{"d":"2017-01-27","p":-0.96},{"d":"2017-01-28","p":-0.88},{"d":"2017-01-29","p":-0.98},{"d":"2017-01-30","p":-1.1},{"d":"2017-01-31","p":-1.2},{"d":"2017-02-01","p":-1.3},{"d":"2017-02-02","p":-1.15},{"d":"2017-02-03","p":-1.0},{"d":"2017-02-04","p":-0.9},{"d":"2017-02-05","p":-0.82},{"d":"2017-02-06","p":-0.92},{"d":"2017-02-07","p":-1.02},{"d":"2017-02-08","p":-0.95},{"d":"2017-02-09","p":-0.85},{"d":"2017-02-10","p":-0.78},{"d":"2017-02-11","p":-0.88},{"d":"2017-02-12","p":-0.95},{"d":"2017-02-13","p":-0.8},{"d":"2017-02-14","p":-0.72},{"d":"2017-02-15","p":-0.6},{"d":"2017-02-16","p":-0.55},{"d":"2017-02-17","p":-0.32},{"d":"2017-02-18","p":-0.14},{"d":"2017-02-19","p":-0.22},{"d":"2017-02-20","p":-0.4},{"d":"2017-02-21","p":-0.55},{"d":"2017-02-22","p":-0.48},{"d":"2017-02-23","p":-0.6},{"d":"2017-02-24","p":-0.52},{"d":"2017-02-25","p":-0.42},{"d":"2017-02-26","p":-0.5},{"d":"2017-02-27","p":-0.62},{"d":"2017-02-28","p":-0.7},{"d":"2017-03-01","p":-0.6},{"d":"2017-03-02","p":-0.5},{"d":"2017-03-03","p":-0.45},{"d":"2017-03-04","p":-0.58},{"d":"2017-03-05","p":-0.72},{"d":"2017-03-06","p":-0.82},{"d":"2017-03-07","p":-0.9},{"d":"2017-03-08","p":-0.85},{"d":"2017-03-09","p":-0.95},{"d":"2017-03-10","p":-1.05},{"d":"2017-03-11","p":-1.17},
{"d":"2017-03-29","p":-1.68},{"d":"2017-03-30","p":-1.55},{"d":"2017-03-31","p":-1.62},{"d":"2017-04-01","p":-1.45},{"d":"2017-04-02","p":-1.4},{"d":"2017-04-03","p":-1.5},{"d":"2017-04-05","p":-1.6},{"d":"2017-04-06","p":-1.52},{"d":"2017-04-07","p":-1.45},{"d":"2017-04-09","p":-1.55},{"d":"2017-04-10","p":-1.62},{"d":"2017-04-11","p":-1.5},{"d":"2017-04-13","p":-1.45},{"d":"2017-04-14","p":-1.55},{"d":"2017-04-15","p":-1.62},{"d":"2017-04-17","p":-1.5},{"d":"2017-04-18","p":-1.42},{"d":"2017-04-19","p":-1.52},{"d":"2017-04-21","p":-1.6},{"d":"2017-04-22","p":-1.48},{"d":"2017-04-23","p":-1.42},{"d":"2017-04-25","p":-1.5},{"d":"2017-04-26","p":-1.58},{"d":"2017-04-27","p":-1.52},{"d":"2017-04-29","p":-1.45},{"d":"2017-04-30","p":-1.55},{"d":"2017-05-01","p":-1.6},{"d":"2017-05-02","p":-1.52},
{"d":"2017-05-17","p":-1.7},{"d":"2017-05-18","p":-1.52},{"d":"2017-05-20","p":-1.75},{"d":"2017-05-21","p":-1.6},{"d":"2017-05-23","p":-1.48},{"d":"2017-05-24","p":-1.65},{"d":"2017-05-26","p":-1.8},{"d":"2017-05-28","p":-1.62},{"d":"2017-05-29","p":-1.72},{"d":"2017-05-31","p":-1.85},{"d":"2017-06-01","p":-1.68},{"d":"2017-06-03","p":-1.75},{"d":"2017-06-05","p":-1.6},{"d":"2017-06-06","p":-1.8},{"d":"2017-06-08","p":-1.92},{"d":"2017-06-09","p":-1.72},{"d":"2017-06-11","p":-1.62},{"d":"2017-06-13","p":-1.85},{"d":"2017-06-14","p":-1.75},{"d":"2017-06-16","p":-1.65},{"d":"2017-06-18","p":-1.9},{"d":"2017-06-19","p":-1.8},{"d":"2017-06-21","p":-1.62},{"d":"2017-06-23","p":-1.72},{"d":"2017-06-25","p":-1.58},{"d":"2017-06-26","p":-1.75},{"d":"2017-06-28","p":-1.88},{"d":"2017-06-30","p":-1.65},{"d":"2017-07-02","p":-1.55},{"d":"2017-07-03","p":-1.72},{"d":"2017-07-05","p":-1.82},{"d":"2017-07-07","p":-1.68},{"d":"2017-07-08","p":-1.58},{"d":"2017-07-10","p":-1.78},{"d":"2017-07-12","p":-1.92},{"d":"2017-07-13","p":-2.02},{"d":"2017-07-14","p":-2.38},{"d":"2017-07-15","p":-1.9},{"d":"2017-07-16","p":-2.1},{"d":"2017-07-18","p":-1.8},{"d":"2017-07-20","p":-1.55},{"d":"2017-07-21","p":-1.42},{"d":"2017-07-23","p":-1.52},{"d":"2017-07-25","p":-1.35},{"d":"2017-07-27","p":-1.62},{"d":"2017-07-29","p":-1.45},{"d":"2017-07-31","p":-1.3},{"d":"2017-08-02","p":-1.55},{"d":"2017-08-04","p":-1.45},{"d":"2017-08-06","p":-1.62},{"d":"2017-08-08","p":-1.4},{"d":"2017-08-10","p":-1.3},{"d":"2017-08-12","p":-1.48},{"d":"2017-08-14","p":-1.25},{"d":"2017-08-16","p":-1.38},{"d":"2017-08-18","p":-1.55},{"d":"2017-08-20","p":-1.2},{"d":"2017-08-22","p":-1.35},{"d":"2017-08-24","p":-1.5},{"d":"2017-08-26","p":-1.68},{"d":"2017-08-28","p":-1.35},{"d":"2017-08-30","p":-1.2},{"d":"2017-09-01","p":-1.3},{"d":"2017-09-03","p":-1.15},{"d":"2017-09-05","p":-1.05},{"d":"2017-09-07","p":-1.25},{"d":"2017-09-09","p":-1.0},{"d":"2017-09-11","p":-1.15},{"d":"2017-09-13","p":-0.95},{"d":"2017-09-15","p":-1.1},{"d":"2017-09-16","p":-0.84},{"d":"2017-09-18","p":-1.0},{"d":"2017-09-20","p":-1.15},{"d":"2017-09-22","p":-0.95},{"d":"2017-09-24","p":-1.05},{"d":"2017-09-26","p":-0.9},{"d":"2017-09-28","p":-1.0},{"d":"2017-09-30","p":-0.88},{"d":"2017-10-02","p":-0.95},{"d":"2017-10-04","p":-0.82},{"d":"2017-10-06","p":-0.9},{"d":"2017-10-08","p":-1.0},{"d":"2017-10-10","p":-0.85},{"d":"2017-10-12","p":-0.75},{"d":"2017-10-14","p":-0.9},{"d":"2017-10-16","p":-0.8},{"d":"2017-10-18","p":-0.72},{"d":"2017-10-20","p":-0.85},{"d":"2017-10-22","p":-0.78},{"d":"2017-10-24","p":-0.7},{"d":"2017-10-26","p":-0.82},{"d":"2017-10-28","p":-0.75},{"d":"2017-10-30","p":-0.65},{"d":"2017-11-01","p":-0.6},{"d":"2017-11-03","p":-0.72},{"d":"2017-11-05","p":-0.55},{"d":"2017-11-07","p":-0.65},{"d":"2017-11-09","p":-0.5},{"d":"2017-11-11","p":-0.62},{"d":"2017-11-13","p":-0.55},{"d":"2017-11-15","p":-0.48},{"d":"2017-11-17","p":-0.6},{"d":"2017-11-19","p":-0.52},{"d":"2017-11-21","p":-0.62},{"d":"2017-11-23","p":-0.5},{"d":"2017-11-25","p":-0.58},{"d":"2017-11-27","p":-0.7},{"d":"2017-11-29","p":-0.8},{"d":"2017-12-01","p":-0.93},{"d":"2017-12-03","p":-0.72},{"d":"2017-12-05","p":-0.55},{"d":"2017-12-07","p":-0.4},{"d":"2017-12-09","p":-0.5},{"d":"2017-12-11","p":-0.35},{"d":"2017-12-13","p":-0.45},{"d":"2017-12-15","p":-0.3},{"d":"2017-12-17","p":-0.42},{"d":"2017-12-19","p":-0.55},{"d":"2017-12-21","p":-0.38},{"d":"2017-12-23","p":-0.5},{"d":"2017-12-25","p":-0.7},{"d":"2017-12-27","p":-0.93},{"d":"2017-12-29","p":-0.6},{"d":"2017-12-31","p":-0.35},{"d":"2018-01-01","p":-0.22},{"d":"2018-01-02","p":-0.15},{"d":"2018-01-03","p":-0.25},{"d":"2018-01-05","p":-0.18},{"d":"2018-01-07","p":-0.28},{"d":"2018-01-09","p":-0.2},{"d":"2018-01-11","p":-0.3},{"d":"2018-01-13","p":-0.22},{"d":"2018-01-15","p":-0.45},{"d":"2018-01-16","p":-0.62},{"d":"2018-01-18","p":-0.7},{"d":"2018-01-19","p":-0.85},{"d":"2018-01-20","p":-1.03},{"d":"2018-01-22","p":-1.2},{"d":"2018-01-23","p":-1.26},{"d":"2018-01-25","p":-1.4},{"d":"2018-01-27","p":-1.45},{"d":"2018-01-29","p":-1.3},{"d":"2018-01-31","p":-1.15},{"d":"2018-02-02","p":-1.05},{"d":"2018-02-04","p":-0.95},{"d":"2018-02-06","p":-0.93},{"d":"2018-02-08","p":-1.05},{"d":"2018-02-10","p":-1.12},{"d":"2018-02-12","p":-1.2},{"d":"2018-02-14","p":-1.31},{"d":"2018-02-16","p":-1.2},{"d":"2018-02-18","p":-1.05},{"d":"2018-02-20","p":-0.95},{"d":"2018-02-22","p":-0.9},{"d":"2018-02-24","p":-0.8},{"d":"2018-02-26","p":-0.85},{"d":"2018-02-28","p":-0.72},{"d":"2018-03-02","p":-0.7},{"d":"2018-03-04","p":-0.9},{"d":"2018-03-06","p":-1.22},{"d":"2018-03-08","p":-1.4},{"d":"2018-03-10","p":-1.55},{"d":"2018-03-12","p":-1.45},{"d":"2018-03-14","p":-1.62},{"d":"2018-03-16","p":-1.72},{"d":"2018-03-18","p":-1.6},{"d":"2018-03-20","p":-1.7},{"d":"2018-03-22","p":-1.8},{"d":"2018-03-24","p":-1.7},{"d":"2018-03-26","p":-1.76},{"d":"2018-03-28","p":-1.62},{"d":"2018-03-30","p":-1.55},{"d":"2018-04-01","p":-1.38},{"d":"2018-04-03","p":-1.28},{"d":"2018-04-05","p":-1.4},{"d":"2018-04-07","p":-1.32},{"d":"2018-04-09","p":-1.45},{"d":"2018-04-11","p":-1.5},{"d":"2018-04-13","p":-1.42},{"d":"2018-04-15","p":-1.6},{"d":"2018-04-17","p":-1.7},{"d":"2018-04-19","p":-1.8},{"d":"2018-04-21","p":-1.87},{"d":"2018-04-23","p":-1.75},{"d":"2018-04-25","p":-1.65},{"d":"2018-04-27","p":-1.6},{"d":"2018-04-29","p":-1.5},{"d":"2018-05-01","p":-1.45},{"d":"2018-05-03","p":-1.55},{"d":"2018-05-05","p":-1.6},{"d":"2018-05-07","p":-1.68},{"d":"2018-05-09","p":-2.06},{"d":"2018-05-11","p":-1.62},{"d":"2018-05-13","p":-1.7},{"d":"2018-05-15","p":-1.6},{"d":"2018-05-17","p":-1.75},{"d":"2018-05-19","p":-1.92},{"d":"2018-05-21","p":-1.7},{"d":"2018-05-23","p":-1.62},{"d":"2018-05-25","p":-1.78},{"d":"2018-05-27","p":-1.85},{"d":"2018-05-29","p":-1.72},{"d":"2018-05-31","p":-1.6},{"d":"2018-06-02","p":-1.7},{"d":"2018-06-04","p":-1.32},{"d":"2018-06-06","p":-1.4},{"d":"2018-06-08","p":-1.5},{"d":"2018-06-10","p":-1.58},{"d":"2018-06-12","p":-1.65},{"d":"2018-06-14","p":-1.72},{"d":"2018-06-16","p":-1.82},{"d":"2018-06-18","p":-1.75},{"d":"2018-06-20","p":-1.88},{"d":"2018-06-22","p":-1.95},{"d":"2018-06-24","p":-2.0},{"d":"2018-06-26","p":-1.82},{"d":"2018-06-28","p":-1.7},{"d":"2018-06-30","p":-1.62},{"d":"2018-07-02","p":-1.75},{"d":"2018-07-04","p":-1.85},{"d":"2018-07-06","p":-1.95},{"d":"2018-07-08","p":-2.2},{"d":"2018-07-10","p":-1.88},{"d":"2018-07-12","p":-1.75},{"d":"2018-07-14","p":-1.7},{"d":"2018-07-16","p":-1.82},{"d":"2018-07-18","p":-1.9},{"d":"2018-07-20","p":-1.78},{"d":"2018-07-22","p":-1.72},{"d":"2018-07-24","p":-1.85},{"d":"2018-07-26","p":-1.95},{"d":"2018-07-28","p":-1.8},{"d":"2018-07-30","p":-1.65},{"d":"2018-08-01","p":-1.75},{"d":"2018-08-03","p":-1.9},{"d":"2018-08-05","p":-2.0},{"d":"2018-08-07","p":-1.95},{"d":"2018-08-09","p":-2.08},{"d":"2018-08-11","p":-2.15},{"d":"2018-08-13","p":-2.05},{"d":"2018-08-15","p":-1.95},{"d":"2018-08-17","p":-2.02},{"d":"2018-08-19","p":-1.95},{"d":"2018-08-21","p":-1.85},{"d":"2018-08-23","p":-1.75},{"d":"2018-08-25","p":-1.7},{"d":"2018-08-27","p":-1.62},{"d":"2018-08-29","p":-1.58},{"d":"2018-08-31","p":-1.52},{"d":"2018-09-02","p":-1.48},{"d":"2018-09-04","p":-1.42},{"d":"2018-09-06","p":-1.38},{"d":"2018-09-08","p":-1.35},{"d":"2018-09-10","p":-1.32},{"d":"2018-09-12","p":-1.3},{"d":"2018-09-14","p":-1.26},{"d":"2018-09-16","p":-1.22},{"d":"2018-09-18","p":-1.2},{"d":"2018-09-20","p":-1.15},{"d":"2018-09-22","p":-1.12},{"d":"2018-09-24","p":-1.1},{"d":"2018-09-26","p":-1.12},{"d":"2018-09-28","p":-1.05},{"d":"2018-09-30","p":-1.02},{"d":"2018-10-02","p":-1.08},{"d":"2018-10-04","p":-1.0},{"d":"2018-10-06","p":-0.96},{"d":"2018-10-08","p":-1.1},{"d":"2018-10-10","p":-0.95},{"d":"2018-10-12","p":-1.0},{"d":"2018-10-14","p":-0.92},{"d":"2018-10-16","p":-1.04},{"d":"2018-10-18","p":-0.9},{"d":"2018-10-20","p":-0.92},{"d":"2018-10-22","p":-0.88},{"d":"2018-10-24","p":-0.85},{"d":"2018-10-26","p":-0.84}
],
"fit":[{"d":"2016-08-15","f":-5.0},{"d":"2016-08-16","f":-4.3},{"d":"2016-08-17","f":-3.75},{"d":"2016-08-18","f":-3.27},{"d":"2016-08-20","f":-2.85},{"d":"2016-08-23","f":-2.5},{"d":"2016-08-26","f":-2.24},{"d":"2016-08-30","f":-2.02},{"d":"2016-09-04","f":-1.85},{"d":"2016-09-10","f":-1.68},{"d":"2016-09-15","f":-1.55},{"d":"2016-09-22","f":-1.44},{"d":"2016-09-29","f":-1.36},{"d":"2016-10-07","f":-1.27},{"d":"2016-10-16","f":-1.18},{"d":"2016-10-26","f":-1.1},{"d":"2016-11-05","f":-1.03},{"d":"2016-11-15","f":-0.99},{"d":"2016-11-24","f":-0.95}],
"zero":[{"y":0}],
"thr":[{"y":-1.2}],
"labB":[{"d":"2016-01-09","y":74.7,"t":"b"}],
"labC":[{"d":"2016-01-08","y":0.18,"t":"c"}]
},
"vconcat":[
{
 "width":1620,"height":394,
 "resolve":{"scale":{"y":"independent"},"axis":{"x":"independent","y":"independent"}},
 "layer":[
  {"data":{"name":"bands"},"mark":{"type":"rect","opacity":0.5},
   "encoding":{
    "x":{"field":"s","type":"temporal","scale":{"type":"utc","nice":false,"domain":[{"year":2015,"month":12,"date":30,"utc":true},{"year":2018,"month":10,"date":28,"utc":true}]},"axis":{"orient":"bottom","grid":true,"ticks":false,"labels":false,"title":null,"tickCount":{"interval":"month","step":3},"zindex":0}},
    "x2":{"field":"e"},
    "y":{"datum":-150,"type":"quantitative","scale":{"domain":[-150,100],"nice":false,"zero":false},"axis":null},
    "y2":{"datum":100},
    "color":{"field":"k","type":"nominal","scale":{"domain":["blue","salmon"],"range":["#b5c5f1","#efc0ae"]},"legend":null}}},
  {"data":{"name":"events"},"mark":{"type":"rule","color":"#444","strokeWidth":2.5,"strokeDash":[14,5,3,5],"clip":false},
   "encoding":{
    "x":{"field":"d","type":"temporal","scale":{"type":"utc","nice":false,"domain":[{"year":2015,"month":12,"date":30,"utc":true},{"year":2018,"month":10,"date":28,"utc":true}]},"axis":{"orient":"bottom","grid":false,"format":"%b","tickCount":{"interval":"month","step":3},"labelPadding":42,"title":null,"zindex":1}},
    "y":{"datum":-190,"type":"quantitative","scale":{"domain":[-150,100],"nice":false,"zero":false},"axis":null},
    "y2":{"datum":110}}},
  {"data":{"name":"disp"},"mark":{"type":"line","color":"#dc143c","strokeWidth":9,"strokeCap":"round","interpolate":"monotone"},
   "encoding":{
    "x":{"field":"d","type":"temporal","scale":{"type":"utc","nice":false,"domain":[{"year":2015,"month":12,"date":30,"utc":true},{"year":2018,"month":10,"date":28,"utc":true}]},"axis":{"orient":"top","grid":false,"labels":false,"title":null,"tickCount":{"interval":"month","step":3},"zindex":1}},
    "y":{"field":"cm","type":"quantitative","scale":{"domain":[-150,100],"nice":false,"zero":false},"axis":{"orient":"left","values":[-150,-100,-50,0,50,100],"grid":true,"labelPadding":31,"title":"North GPS displacement (cm)","titleColor":"#dc143c","titlePadding":20,"zindex":0}},
    "detail":{"field":"seg","type":"nominal"}}},
  {"data":{"name":"vel"},"mark":{"type":"circle","size":110,"color":"#666","opacity":1},
   "encoding":{
    "x":{"field":"d","type":"temporal","scale":{"type":"utc","nice":false,"domain":[{"year":2015,"month":12,"date":30,"utc":true},{"year":2018,"month":10,"date":28,"utc":true}]},"axis":null},
    "y":{"field":"v","type":"quantitative","scale":{"domain":[-0.2,1.2],"nice":false,"zero":false},"axis":{"orient":"right","values":[0,0.5,1],"format":"~g","grid":false,"labelPadding":33,"title":"Velocity (cm/d)","titleAngle":-90,"titleBaseline":"top","titlePadding":35}}}},
  {"data":{"name":"labB"},"mark":{"type":"text","align":"left","baseline":"alphabetic","fontSize":34,"fontWeight":"bold","color":"#000"},
   "encoding":{
    "x":{"field":"d","type":"temporal","scale":{"type":"utc","nice":false,"domain":[{"year":2015,"month":12,"date":30,"utc":true},{"year":2018,"month":10,"date":28,"utc":true}]},"axis":null},
    "y":{"field":"y","type":"quantitative","scale":{"domain":[-150,100],"nice":false,"zero":false},"axis":null},
    "text":{"field":"t"}}}
 ]
},
{
 "width":1620,"height":392,
 "resolve":{"axis":{"x":"independent","y":"independent"}},
 "layer":[
  {"data":{"name":"events"},"mark":{"type":"rule","color":"#444","strokeWidth":2.5,"strokeDash":[14,5,3,5]},
   "encoding":{
    "x":{"field":"d","type":"temporal","scale":{"type":"utc","nice":false,"domain":[{"year":2015,"month":12,"date":30,"utc":true},{"year":2018,"month":10,"date":28,"utc":true}]},"axis":{"orient":"bottom","grid":true,"format":"%b","tickCount":{"interval":"month","step":3},"labelPadding":33,"title":null,"zindex":0}}}},
  {"data":{"name":"dvv"},"mark":{"type":"circle","size":160,"color":"#333","opacity":1},
   "encoding":{
    "x":{"field":"d","type":"temporal","scale":{"type":"utc","nice":false,"domain":[{"year":2015,"month":12,"date":30,"utc":true},{"year":2018,"month":10,"date":28,"utc":true}]},"axis":{"orient":"bottom","grid":false,"ticks":false,"format":"%Y","tickCount":{"interval":"year","step":1},"labelAlign":"left","labelOffset":5,"labelPadding":61,"title":null,"zindex":0}},
    "y":{"field":"p","type":"quantitative","scale":{"domain":[-5,0.5],"nice":false,"zero":false},"axis":{"orient":"left","values":[-5,-4,-3,-2,-1,0],"grid":true,"labelPadding":31,"title":"dV/V (%)","titlePadding":50,"zindex":0}}}},
  {"data":{"name":"zero"},"mark":{"type":"rule","color":"#111","strokeWidth":3.5,"strokeDash":[24,12]},
   "encoding":{"y":{"field":"y","type":"quantitative","scale":{"domain":[-5,0.5],"nice":false,"zero":false},"axis":null}}},
  {"data":{"name":"thr"},"mark":{"type":"rule","color":"#ff0000","strokeWidth":4,"strokeDash":[24,12]},
   "encoding":{"y":{"field":"y","type":"quantitative","scale":{"domain":[-5,0.5],"nice":false,"zero":false},"axis":null}}},
  {"data":{"name":"fit"},"mark":{"type":"line","color":"#1fbfb0","strokeWidth":3.5,"strokeDash":[18,10],"interpolate":"monotone"},
   "encoding":{
    "x":{"field":"d","type":"temporal","scale":{"type":"utc","nice":false,"domain":[{"year":2015,"month":12,"date":30,"utc":true},{"year":2018,"month":10,"date":28,"utc":true}]},"axis":{"orient":"top","grid":false,"labels":false,"title":null,"tickCount":{"interval":"month","step":3},"zindex":1}},
    "y":{"field":"f","type":"quantitative","scale":{"domain":[-5,0.5],"nice":false,"zero":false},"axis":{"orient":"right","values":[-5,-4,-3,-2,-1,0],"labels":false,"grid":false,"title":null,"zindex":1}}}},
  {"data":{"name":"labC"},"mark":{"type":"text","align":"left","baseline":"alphabetic","fontSize":34,"fontWeight":"bold","color":"#000"},
   "encoding":{
    "x":{"field":"d","type":"temporal","scale":{"type":"utc","nice":false,"domain":[{"year":2015,"month":12,"date":30,"utc":true},{"year":2018,"month":10,"date":28,"utc":true}]},"axis":null},
    "y":{"field":"y","type":"quantitative","scale":{"domain":[-5,0.5],"nice":false,"zero":false},"axis":null},
    "text":{"field":"t"}}}
 ]
}
]
}
